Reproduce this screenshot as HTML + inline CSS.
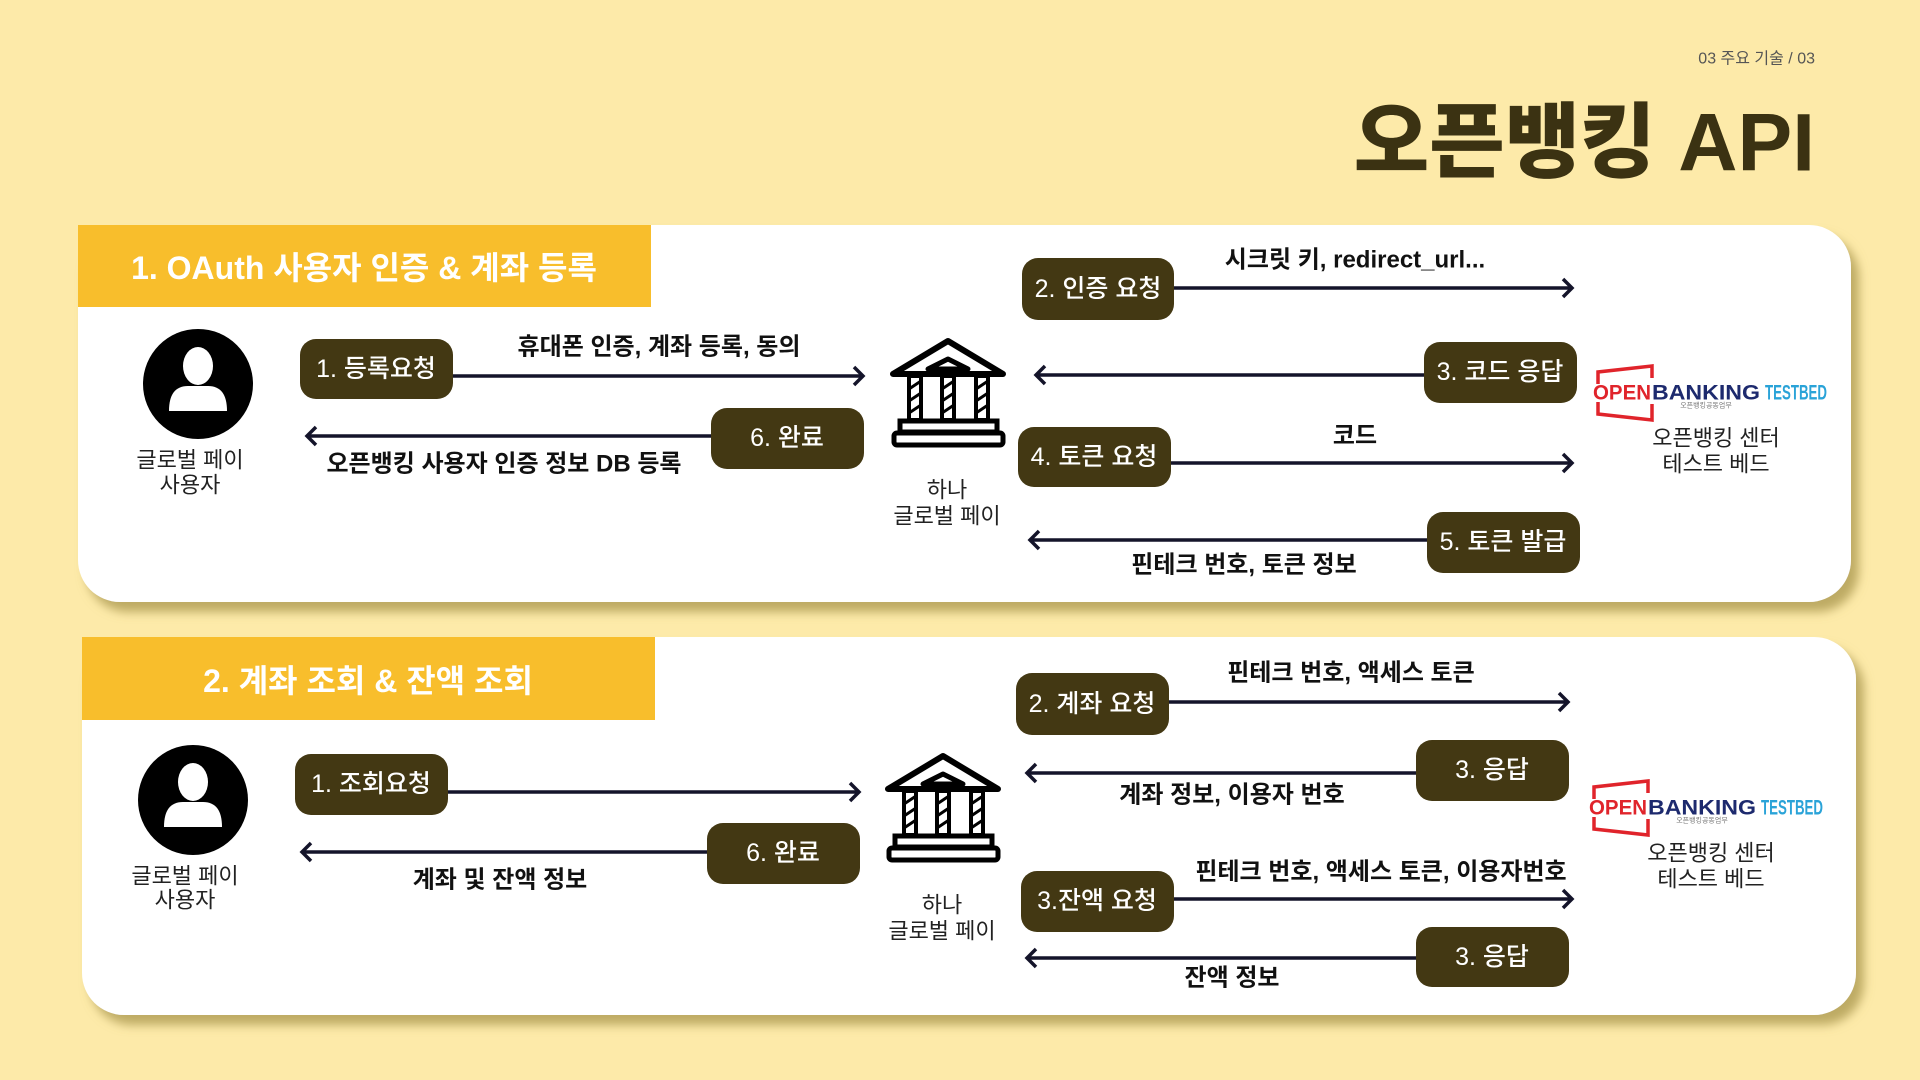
<!DOCTYPE html>
<html><head><meta charset="utf-8"><style>
html,body{margin:0;padding:0;width:1920px;height:1080px;overflow:hidden;background:#fdeaa9;}
svg{display:block}
text{font-family:"Liberation Sans","Noto Sans CJK KR",sans-serif;}
.pt{fill:#fff;font-size:25px;font-weight:500;text-anchor:middle;dominant-baseline:central}
.lb{fill:#111;font-size:24px;font-weight:700;text-anchor:middle;dominant-baseline:central}
.nm{fill:#222;font-size:22px;text-anchor:middle;dominant-baseline:central}
.pill{fill:#433813}
.ar{stroke:#14142a;stroke-width:3.5;fill:none}
</style></head><body>
<svg width="1920" height="1080" viewBox="0 0 1920 1080">
<defs>
<filter id="sh" x="-5%" y="-5%" width="115%" height="125%"><feDropShadow dx="8" dy="10" stdDeviation="5" flood-color="#a8954d" flood-opacity="0.75"/></filter>
<symbol id="bank" viewBox="0 0 117 108" overflow="visible">
<polygon points="58,2 3,35 113,35" fill="#fff" stroke="#000" stroke-width="6" stroke-linejoin="round"/>
<polygon points="58,20 38,30 78,30" fill="#fff" stroke="#000" stroke-width="5" stroke-linejoin="round"/>
<g fill="#fff" stroke="#000" stroke-width="4">
<rect x="19" y="37" width="12" height="44"/><rect x="52" y="37" width="12" height="44"/><rect x="86" y="37" width="12" height="44"/>
</g>
<g stroke="#000" stroke-width="3"><path d="M19,50 L31,42 M19,62 L31,54 M19,74 L31,66 M52,50 L64,42 M52,62 L64,54 M52,74 L64,66 M86,50 L98,42 M86,62 L98,54 M86,74 L98,66"/></g>
<rect x="10" y="82" width="97" height="11" fill="#fff" stroke="#000" stroke-width="5"/>
<rect x="4" y="94" width="109" height="12" rx="3" fill="#fff" stroke="#000" stroke-width="5"/>
</symbol>
<symbol id="person" viewBox="-55 -55 110 110" overflow="visible">
<circle r="55" fill="#000"/>
<ellipse cx="0" cy="-18" rx="15" ry="19" fill="#fff"/>
<path d="M-29,27 Q-29,2 -10,2 L10,2 Q29,2 29,27 Z" fill="#fff"/>
</symbol>
<symbol id="logo" viewBox="0 0 240 60" overflow="visible">
<path d="M6,20 L6,8 L60,2 L60,14 M60,40 L60,56 L6,50 L6,38" fill="none" stroke="#e0242b" stroke-width="3.5"/>
</symbol>
</defs>

<text x="1815" y="59" text-anchor="end" font-size="16" fill="#555" dominant-baseline="central">03 주요 기술 / 03</text>
<text x="1815" y="143" text-anchor="end" font-size="82" font-weight="900" fill="#3b3212" dominant-baseline="central">오픈뱅킹 API</text>

<!-- Card 1 -->
<g>
<rect x="78" y="225" width="1773" height="377" rx="42" fill="#fff" filter="url(#sh)"/>
<path d="M78,225 L651,225 L651,307 L78,307 Z" fill="#f8be2c"/>
<text x="364" y="268" text-anchor="middle" dominant-baseline="central" font-size="32" font-weight="700" fill="#fff">1. OAuth 사용자 인증 &amp; 계좌 등록</text>

<use href="#person" x="143" y="329" width="110" height="110"/>
<text class="nm" x="190" y="460">글로벌 페이</text>
<text class="nm" x="190" y="485">사용자</text>

<use href="#bank" x="890" y="339" width="117" height="108"/>
<text class="nm" x="947" y="490">하나</text>
<text class="nm" x="947" y="516">글로벌 페이</text>

<g>
<use href="#logo" x="1592" y="364" width="240" height="60"/>
<text x="1593" y="393" font-size="21" font-weight="700" fill="#e0242b" dominant-baseline="central" textLength="58" lengthAdjust="spacingAndGlyphs">OPEN</text>
<text x="1652" y="393" font-size="21" font-weight="700" fill="#1d2a6e" dominant-baseline="central" textLength="108" lengthAdjust="spacingAndGlyphs">BANKING</text>
<text x="1765" y="393" font-size="21" font-weight="700" fill="#2aa3d8" dominant-baseline="central" textLength="62" lengthAdjust="spacingAndGlyphs">TESTBED</text>
<text x="1706" y="406" font-size="7" fill="#777" text-anchor="middle" dominant-baseline="central">오픈뱅킹공동업무</text>
</g>
<text class="nm" x="1716" y="438">오픈뱅킹 센터</text>
<text class="nm" x="1716" y="464">테스트 베드</text>

<g>
<path class="ar" d="M453,376 L862,376 M854,367 L863,376 L854,385"/>
<rect class="pill" x="300" y="339" width="153" height="60" rx="16"/>
<text class="pt" x="376" y="369">1. 등록요청</text>
<text class="lb" x="659" y="347">휴대폰 인증,  계좌 등록, 동의</text>
</g>
<g>
<path class="ar" d="M711,436 L308,436 M316,427 L307,436 L316,445"/>
<rect class="pill" x="711" y="408" width="153" height="61" rx="16"/>
<text class="pt" x="787" y="438">6. 완료</text>
<text class="lb" x="504" y="464">오픈뱅킹 사용자 인증 정보 DB 등록</text>
</g>
<g>
<path class="ar" d="M1174,288 L1571,288 M1563,279 L1572,288 L1563,297"/>
<rect class="pill" x="1022" y="258" width="152" height="62" rx="16"/>
<text class="pt" x="1098" y="289">2. 인증 요청</text>
<text class="lb" x="1355" y="260">시크릿 키, redirect_url...</text>
</g>
<g>
<path class="ar" d="M1424,375 L1037,375 M1045,366 L1036,375 L1045,384"/>
<rect class="pill" x="1424" y="342" width="153" height="61" rx="16"/>
<text class="pt" x="1500" y="372">3. 코드 응답</text>
</g>
<g>
<path class="ar" d="M1171,463 L1571,463 M1563,454 L1572,463 L1563,472"/>
<rect class="pill" x="1018" y="427" width="153" height="60" rx="16"/>
<text class="pt" x="1094" y="457">4. 토큰 요청</text>
<text class="lb" x="1355" y="436">코드</text>
</g>
<g>
<path class="ar" d="M1427,540 L1031,540 M1039,531 L1030,540 L1039,549"/>
<rect class="pill" x="1427" y="512" width="153" height="61" rx="16"/>
<text class="pt" x="1503" y="542">5. 토큰 발급</text>
<text class="lb" x="1244" y="565">핀테크 번호, 토큰 정보</text>
</g>
</g>

<!-- Card 2 -->
<g>
<rect x="82" y="637" width="1774" height="378" rx="42" fill="#fff" filter="url(#sh)"/>
<path d="M82,637 L655,637 L655,720 L82,720 Z" fill="#f8be2c"/>
<text x="368" y="681" text-anchor="middle" dominant-baseline="central" font-size="32" font-weight="700" fill="#fff">2. 계좌 조회 &amp; 잔액 조회</text>

<use href="#person" x="138" y="745" width="110" height="110"/>
<text class="nm" x="185" y="876">글로벌 페이</text>
<text class="nm" x="185" y="900">사용자</text>

<use href="#bank" x="885" y="754" width="117" height="108"/>
<text class="nm" x="942" y="905">하나</text>
<text class="nm" x="942" y="931">글로벌 페이</text>

<g>
<use href="#logo" x="1588" y="779" width="240" height="60"/>
<text x="1589" y="808" font-size="21" font-weight="700" fill="#e0242b" dominant-baseline="central" textLength="58" lengthAdjust="spacingAndGlyphs">OPEN</text>
<text x="1648" y="808" font-size="21" font-weight="700" fill="#1d2a6e" dominant-baseline="central" textLength="108" lengthAdjust="spacingAndGlyphs">BANKING</text>
<text x="1761" y="808" font-size="21" font-weight="700" fill="#2aa3d8" dominant-baseline="central" textLength="62" lengthAdjust="spacingAndGlyphs">TESTBED</text>
<text x="1702" y="821" font-size="7" fill="#777" text-anchor="middle" dominant-baseline="central">오픈뱅킹공동업무</text>
</g>
<text class="nm" x="1711" y="853">오픈뱅킹 센터</text>
<text class="nm" x="1711" y="879">테스트 베드</text>

<g>
<path class="ar" d="M448,792 L858,792 M850,783 L859,792 L850,801"/>
<rect class="pill" x="295" y="754" width="153" height="61" rx="16"/>
<text class="pt" x="371" y="784">1. 조회요청</text>
</g>
<g>
<path class="ar" d="M707,852 L303,852 M311,843 L302,852 L311,861"/>
<rect class="pill" x="707" y="823" width="153" height="61" rx="16"/>
<text class="pt" x="783" y="853">6. 완료</text>
<text class="lb" x="500" y="880">계좌 및 잔액 정보</text>
</g>
<g>
<path class="ar" d="M1169,702 L1567,702 M1559,693 L1568,702 L1559,711"/>
<rect class="pill" x="1016" y="673" width="153" height="62" rx="16"/>
<text class="pt" x="1092" y="704">2. 계좌 요청</text>
<text class="lb" x="1351" y="673">핀테크 번호, 액세스 토큰</text>
</g>
<g>
<path class="ar" d="M1416,773 L1028,773 M1036,764 L1027,773 L1036,782"/>
<rect class="pill" x="1416" y="740" width="153" height="61" rx="16"/>
<text class="pt" x="1492" y="770">3. 응답</text>
<text class="lb" x="1232" y="795">계좌 정보, 이용자 번호</text>
</g>
<g>
<path class="ar" d="M1174,899 L1571,899 M1563,890 L1572,899 L1563,908"/>
<rect class="pill" x="1021" y="871" width="153" height="61" rx="16"/>
<text class="pt" x="1097" y="901">3.잔액 요청</text>
<text class="lb" x="1381" y="872">핀테크 번호, 액세스 토큰, 이용자번호</text>
</g>
<g>
<path class="ar" d="M1416,958 L1028,958 M1036,949 L1027,958 L1036,967"/>
<rect class="pill" x="1416" y="927" width="153" height="60" rx="16"/>
<text class="pt" x="1492" y="957">3. 응답</text>
<text class="lb" x="1232" y="978">잔액 정보</text>
</g>
</g>
</svg>
</body></html>
